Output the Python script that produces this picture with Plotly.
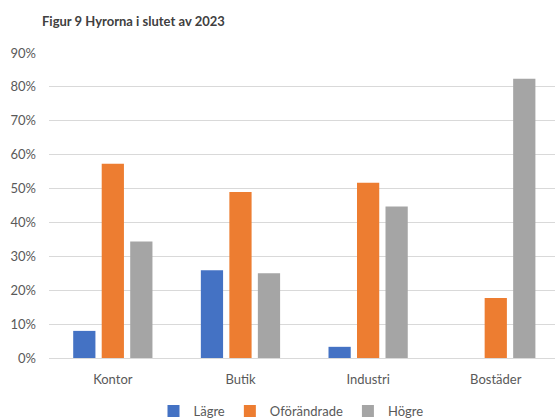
import plotly.graph_objects as go

categories = ["Kontor", "Butik", "Industri", "Bostäder"]
lagre = [0.080, 0.259, 0.033, 0.0]
oforandrade = [0.573, 0.490, 0.517, 0.177]
hogre = [0.344, 0.250, 0.447, 0.824]

series = [
    ("Lägre", lagre, "#4472C4"),
    ("Oförändrade", oforandrade, "#ED7D31"),
    ("Högre", hogre, "#A5A5A5"),
]

font_family = "Lato, 'Open Sans', sans-serif"
text_color = "#595959"

fig = go.Figure()
for name, vals, color in series:
    fig.add_trace(go.Bar(
        x=categories, y=vals, name=name,
        marker=dict(color=color, line=dict(width=0)),
        hovertemplate="%{x}: %{y:.0%}<extra>" + name + "</extra>",
    ))

fig.update_layout(
    width=555, height=419,
    paper_bgcolor="white", plot_bgcolor="white",
    margin=dict(l=49, r=0, t=53, b=61),
    barmode="group", bargap=0.33, bargroupgap=0.22,
    font=dict(family=font_family, size=13, color=text_color),
    title=dict(
        text="<b>Figur 9 Hyrorna i slutet av 2023</b>",
        x=42 / 555, xanchor="left", xref="container",
        y=1 - 21 / 419, yanchor="middle", yref="container",
        font=dict(family=font_family, size=13, color="#404040"),
    ),
    legend=dict(
        orientation="h", xref="container", yref="container",
        x=291 / 555, xanchor="center", y=8 / 419, yanchor="middle",
        font=dict(size=13, color=text_color),
        itemwidth=30, traceorder="normal",
    ),
    xaxis=dict(
        range=[-0.5, 3.464], showgrid=False, showline=False,
        zeroline=False, ticks="", ticklabelstandoff=12,
        tickfont=dict(size=13, color=text_color),
    ),
    yaxis=dict(
        range=[0, 0.9], dtick=0.1, tickformat=".0%",
        showgrid=True, gridcolor="#D9D9D9", gridwidth=1,
        zeroline=True, zerolinecolor="#D9D9D9", zerolinewidth=1,
        showline=False, ticks="", ticklabelstandoff=12,
        tickfont=dict(size=13, color=text_color),
    ),
)

fig.write_html("out.html")
